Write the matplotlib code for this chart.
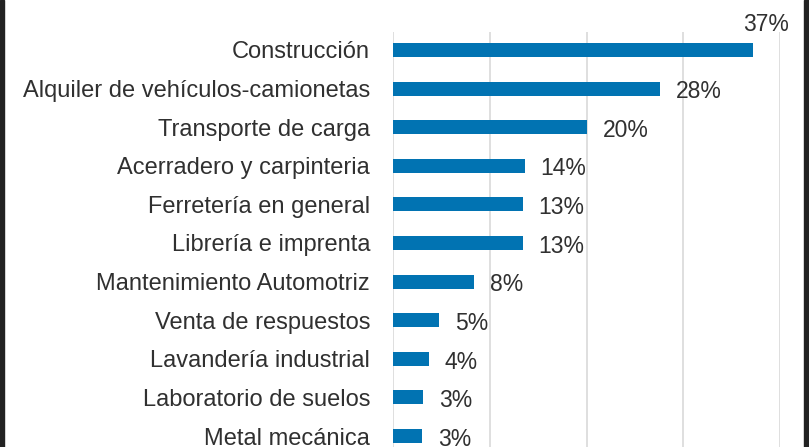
import matplotlib
matplotlib.use("Agg")
import matplotlib.pyplot as plt
from matplotlib.patches import Rectangle

# datos (porcentaje de empresas por rubro)
rubros = ['Construcción', 'Alquiler de vehículos-camionetas', 'Transporte de carga',
          'Acerradero y carpinteria', 'Ferretería en general', 'Librería e imprenta',
          'Mantenimiento Automotriz', 'Venta de respuestos', 'Lavandería industrial',
          'Laboratorio de suelos', 'Metal mecánica']
porcentajes = [37.2, 27.6, 20.0, 13.6, 13.4, 13.4, 8.4, 4.8, 3.7, 3.1, 3.0]
etiquetas = ['37%', '28%', '20%', '14%', '13%', '13%', '8%', '5%', '4%', '3%', '3%']
x_ticks = [0, 10, 20, 30, 40]

plt.rcParams['font.family'] = ['Liberation Sans', 'DejaVu Sans']
texto = '#303030'
azul = '#0173b2'

fig = plt.figure(figsize=(8.09, 4.47), dpi=100)
# axes extends a bit below the figure (the original is cropped)
ax = fig.add_axes([393 / 809, 1 - 454 / 447, (780 - 393) / 809, (454 - 32) / 447])

pos = list(range(len(rubros)))
ax.barh(pos, porcentajes, height=0.363, color=azul, zorder=3)

ax.set_xlim(0, 40)
ax.set_ylim(len(rubros) - 0.534, -0.466)
ax.set_xticks(x_ticks)
ax.set_xticklabels([])
ax.set_yticks(pos)
ax.set_yticklabels(rubros, fontsize=17, color=texto)
ax.tick_params(axis='both', length=0)
ax.tick_params(axis='y', pad=16.5)
ax.grid(axis='x', color='#d9d9d9', linewidth=1.2, zorder=0)
for s in ax.spines.values():
    s.set_visible(False)

for i, (v, lab) in enumerate(zip(porcentajes, etiquetas)):
    if v > 35:
        # no cabe a la derecha: va arriba de la barra
        ax.annotate(lab, (v, i), xytext=(-7, 20.5), textcoords='offset points',
                    ha='left', va='center_baseline', fontsize=16.5, color=texto,
                    annotation_clip=False)
    else:
        ax.annotate(lab, (v, i), xytext=(11.5, -0.5), textcoords='offset points',
                    ha='left', va='center_baseline', fontsize=16.5, color=texto)

# bordes oscuros a los lados
fig.add_artist(Rectangle((0, 0), 4 / 809, 1, transform=fig.transFigure, color='#222222'))
fig.add_artist(Rectangle((1 - 5 / 809, 0), 5 / 809, 1, transform=fig.transFigure, color='#222222'))

fig.savefig('out.png', dpi=100)
